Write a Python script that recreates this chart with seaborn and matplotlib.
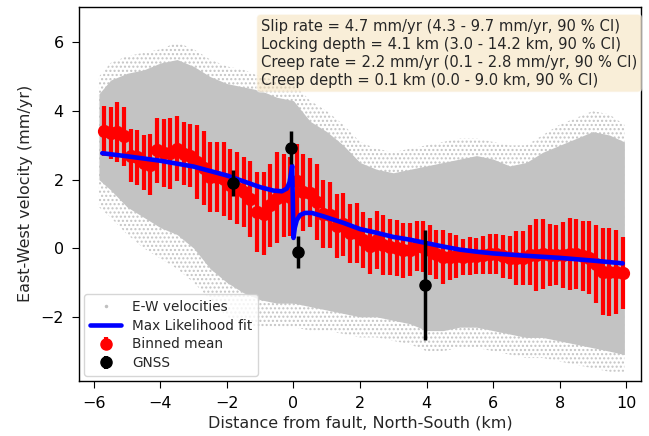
import numpy as np
import pandas as pd
import matplotlib
matplotlib.use("Agg")
import matplotlib.pyplot as plt
import seaborn as sns
from matplotlib.lines import Line2D

# Binned mean of E-W velocity (every 0.2 km) and its spread
bin_x = [-5.7, -5.5, -5.3, -5.1, -4.9, -4.7, -4.5, -4.3, -4.1, -3.9, -3.7, -3.5, -3.3, -3.1,
         -2.9, -2.7, -2.5, -2.3, -2.1, -1.9, -1.7, -1.5, -1.3, -1.1, -0.9, -0.7, -0.5, -0.3,
         -0.1, 0.1, 0.3, 0.5, 0.7, 0.9, 1.1, 1.3, 1.5, 1.7, 1.9, 2.1, 2.3, 2.5, 2.7, 2.9,
         3.1, 3.3, 3.5, 3.7, 3.9, 4.1, 4.3, 4.5, 4.7, 4.9, 5.1, 5.3, 5.5, 5.7, 5.9, 6.1,
         6.3, 6.5, 6.7, 6.9, 7.1, 7.3, 7.5, 7.7, 7.9, 8.1, 8.3, 8.5, 8.7, 8.9, 9.1, 9.3,
         9.5, 9.7, 9.9]
bin_mean = [3.43, 3.36, 3.39, 3.26, 2.70, 2.65, 2.49, 2.44, 2.85, 2.78, 2.77, 2.90, 2.75, 2.70,
            2.51, 2.34, 2.07, 2.07, 2.02, 1.85, 1.76, 1.63, 1.44, 1.06, 1.01, 1.25, 1.47, 1.54,
            1.50, 1.95, 1.63, 1.62, 1.35, 1.00, 0.97, 0.65, 0.70, 0.43, 0.45, 0.23, 0.07, 0.24,
            0.10, 0.04, 0.00, -0.06, -0.04, 0.07, 0.05, -0.05, -0.18, -0.25, -0.25, -0.24,
            -0.25, -0.22, -0.23, -0.20, -0.17, -0.17, -0.23, -0.27, -0.28, -0.28, -0.20, -0.20,
            -0.18, -0.20, -0.20, -0.20, -0.17, -0.17, -0.22, -0.28, -0.45, -0.68, -0.70, -0.70,
            -0.72]
bin_err = [0.73, 0.75, 0.87, 0.85, 0.78, 0.80, 0.80, 0.90, 0.95, 1.00, 1.03, 0.95, 0.92, 0.92,
           1.07, 1.09, 1.02, 1.02, 1.07, 1.04, 1.04, 1.02, 1.11, 1.16, 1.21, 1.21, 1.33, 1.21,
           1.15, 1.10, 1.12, 1.00, 1.10, 1.00, 0.95, 0.92, 0.92, 0.85, 0.87, 0.82, 0.82, 0.85,
           0.87, 0.82, 0.82, 0.80, 0.78, 0.72, 0.75, 0.72, 0.72, 0.78, 0.68, 0.63, 0.53, 0.56,
           0.53, 0.56, 0.58, 0.58, 0.63, 0.63, 0.78, 0.78, 0.87, 1.04, 1.02, 0.90, 0.87, 0.97,
           1.04, 1.02, 1.02, 1.06, 1.14, 1.26, 1.28, 1.22, 1.04]

# GNSS stations
gnss_x = [-1.82, -0.08, 0.13, 3.95]
gnss_y = [1.90, 2.93, -0.11, -1.08]
gnss_err = [0.37, 0.48, 0.46, 1.60]

# Max likelihood fit curve
fit_x = [-5.75, -5.0, -4.0, -3.0, -2.0, -1.5, -1.0, -0.6, -0.35, -0.2, -0.12, -0.07, -0.04,
         -0.02, 0.0, 0.04, 0.1, 0.2, 0.35, 0.55, 0.9, 1.5, 2.0, 2.5, 3.0, 3.5, 4.0, 4.5, 5.0,
         5.5, 6.0, 7.0, 8.0, 9.0, 9.9]
fit_y = [2.77, 2.68, 2.55, 2.38, 2.12, 1.95, 1.78, 1.68, 1.66, 1.74, 1.92, 2.20, 2.40,
         1.40, 0.30, 0.60, 0.82, 0.97, 1.03, 1.03, 0.93, 0.74, 0.56, 0.45, 0.33, 0.25, 0.15,
         0.05, -0.04, -0.10, -0.15, -0.22, -0.28, -0.36, -0.44]

# Envelope of the InSAR velocity cloud (dense core and sparse fringe)
cloud_x = [-5.85, -5.5, -5.0, -4.5, -4.0, -3.5, -3.0, -2.5, -2.0, -1.5, -1.0, -0.5, 0.0, 0.5,
           1.0, 1.5, 2.0, 2.5, 3.0, 3.5, 4.0, 4.5, 5.0, 5.5, 6.0, 6.5, 7.0, 7.5, 8.0, 8.5,
           9.0, 9.5, 9.95]
core_hi = [4.5, 4.9, 5.1, 5.2, 5.4, 5.5, 5.3, 5.0, 4.8, 4.7, 4.6, 4.4, 4.3, 3.7, 3.4, 3.0,
           2.5, 2.3, 2.2, 2.3, 2.4, 2.5, 2.6, 2.7, 2.6, 2.4, 2.5, 2.8, 3.0, 3.2, 3.4, 3.3, 3.1]
core_lo = [2.0, 1.7, 1.2, 0.9, 0.6, 0.4, 0.0, -0.6, -1.0, -1.3, -1.5, -1.6, -1.6, -1.7, -1.8,
           -1.9, -2.0, -2.0, -2.1, -2.2, -2.4, -2.4, -2.3, -2.3, -2.4, -2.5, -2.6, -2.6, -2.7,
           -2.8, -2.9, -3.0, -3.1]
fringe_hi = [5.0, 5.4, 5.6, 5.7, 5.8, 6.0, 5.8, 5.5, 5.3, 5.2, 5.0, 4.9, 4.8, 4.3, 4.0, 3.6,
             3.1, 2.9, 2.8, 2.9, 3.0, 3.1, 3.2, 3.2, 3.1, 3.0, 3.0, 3.3, 3.6, 3.8, 4.0, 3.9, 3.6]
fringe_lo = [1.2, 0.9, 0.4, 0.0, -0.3, -0.6, -1.0, -1.5, -2.0, -2.2, -2.3, -2.3, -2.3, -2.4,
             -2.4, -2.5, -2.6, -2.6, -2.7, -2.8, -3.0, -3.0, -2.9, -2.9, -3.0, -3.1, -3.2,
             -3.2, -3.3, -3.4, -3.5, -3.6, -3.6]

stats_text = ("Slip rate = 4.7 mm/yr (4.3 - 9.7 mm/yr, 90 % CI)\n"
              "Locking depth = 4.1 km (3.0 - 14.2 km, 90 % CI)\n"
              "Creep rate = 2.2 mm/yr (0.1 - 2.8 mm/yr, 90 % CI)\n"
              "Creep depth = 0.1 km (0.0 - 9.0 km, 90 % CI)")

sns.set_style("ticks")
plt.rcParams["font.family"] = ["DejaVu Sans"]

fig = plt.figure(figsize=(6.49, 4.36), dpi=100)
ax = fig.add_axes([0.1217, 0.1261, 0.866, 0.8585])

# velocity cloud
ax.fill_between(cloud_x, fringe_lo, fringe_hi, facecolor="none", edgecolor="#c4c4c4",
                hatch="....", linewidth=0, zorder=1)
ax.fill_between(cloud_x, core_lo, core_hi, color="#c3c3c3", linewidth=0, zorder=1)

# binned means
ax.errorbar(bin_x, bin_mean, yerr=bin_err, fmt="o", color="red", ecolor="red",
            markersize=8.5, elinewidth=3.0, capsize=0, zorder=2)

# fit curve
fit_df = pd.DataFrame({"x": fit_x, "y": fit_y})
sns.lineplot(data=fit_df, x="x", y="y", sort=False, color="blue", linewidth=3.3,
             ax=ax, zorder=3)

# GNSS
ax.errorbar(gnss_x, gnss_y, yerr=gnss_err, fmt="o", color="black", ecolor="black",
            markersize=8, elinewidth=2.5, capsize=0, zorder=4)

ax.text(0.324, 0.968, stats_text, transform=ax.transAxes, va="top", ha="left",
        fontsize=10.6, linespacing=1.25,
        bbox=dict(boxstyle="round", facecolor="wheat", alpha=0.5))

ax.set_xlim(-6.45, 10.45)
ax.set_ylim(-3.87, 7.04)
ax.set_xticks(np.arange(-6, 11, 2))
ax.set_yticks([-2, 0, 2, 4, 6])
ax.tick_params(labelsize=11.5, colors="black", length=5, pad=6)
for s in ax.spines.values():
    s.set_color("black")
    s.set_linewidth(1.0)
ax.set_xlabel("Distance from fault, North-South (km)", fontsize=11.5, labelpad=3)
ax.set_ylabel("East-West velocity (mm/yr)", fontsize=11.5, labelpad=5)

handles = [
    Line2D([], [], marker=".", linestyle="none", color="#c0c0c0", markersize=3),
    Line2D([], [], color="blue", linewidth=3.3),
    ax.errorbar([], [], yerr=[], fmt="o", color="red", markersize=8, elinewidth=3),
    ax.errorbar([], [], yerr=[], fmt="o", color="black", markersize=8, elinewidth=3),
]
labels = ["E-W velocities", "Max Likelihood fit", "Binned mean", "GNSS"]
ax.legend(handles, labels, loc="lower left", fontsize=9.8, framealpha=0.8,
          borderaxespad=0.4, handlelength=2.3, labelspacing=0.35)

fig.savefig("out.png", dpi=100)
